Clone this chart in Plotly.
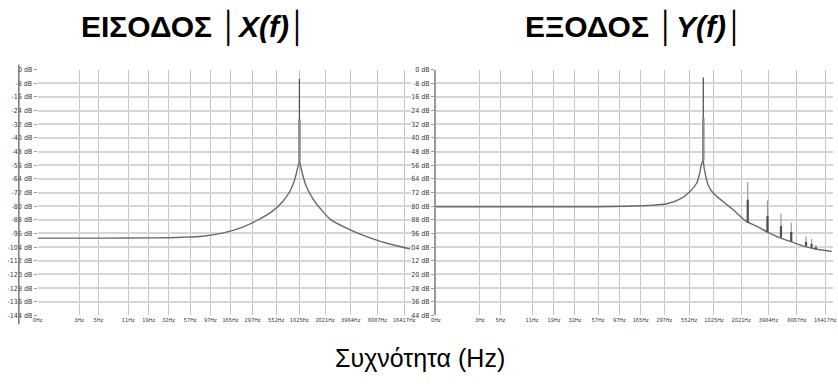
import numpy as np
import plotly.graph_objects as go

# ---- axis labels -------------------------------------------------------
# the first bin (DC) sits at the left edge of the log axis, at 1 Hz
freq_ticks_hz = [1, 3, 5, 11, 19, 32, 57, 97, 165, 297, 552, 1025, 2021, 3984, 8087, 16417]
freq_tick_text = ["0Hz", "3Hz", "5Hz", "11Hz", "19Hz", "32Hz", "57Hz", "97Hz", "165Hz",
                  "297Hz", "552Hz", "1025Hz", "2021Hz", "3984Hz", "8087Hz", "16417Hz"]

level_ticks_db = [0, -8, -16, -24, -32, -40, -48, -56, -64, -72, -80, -88, -96,
                  -104, -112, -120, -128, -136, -144]
in_level_text = ["0 dB", "-8 dB", "-16 dB", "-24 dB", "-32 dB", "-40 dB", "-48 dB", "-56 dB",
                 "-64 dB", "-72 dB", "-80 dB", "-88 dB", "-96 dB", "-104 dB", "-112 dB",
                 "-120 dB", "-128 dB", "-136 dB", "-144 dB"]
out_level_text = ["0 dB", "-8 dB", "16 dB", "24 dB", "32 dB", "40 dB", "48 dB", "56 dB",
                  "64 dB", "72 dB", "80 dB", "88 dB", "96 dB", "04 dB", "12 dB",
                  "20 dB", "28 dB", "36 dB", "44 dB"]

# ---- input spectrum |X(f)| ---------------------------------------------
# envelope below the fundamental, then above it
in_lo_freq = [1, 6, 21, 47, 79, 133, 225, 333, 493, 641, 790, 901, 975, 1026]
in_lo_db = [-98.7, -98.7, -98.6, -98.2, -97.6, -95.8, -92.4, -88.4, -83.2, -78.0, -71.7,
            -64.8, -58.0, -53.4]
in_hi_freq = [1026, 1110, 1233, 1480, 1824, 2371, 4003, 6760, 11400, 19240]
in_hi_db = [-53.4, -61.0, -68.5, -76.0, -82.0, -88.0, -94.0, -98.7, -102.3, -105.0]
in_line_hz = 1026
in_line_top_db = -5.5
in_line_body_db = [-53.4, -29.3]

# ---- output spectrum |Y(f)| --------------------------------------------
out_lo_freq = [1, 6, 21, 57, 194, 318, 438, 561, 666, 717, 754, 786]
out_lo_db = [-80.3, -80.3, -80.3, -80.3, -79.6, -78.6, -75.9, -71.5, -66.6, -60.8, -55.1,
             -53.4]
out_hi_freq = [786, 811, 889, 1005, 1285, 1644, 2282, 2918, 3892, 5177, 7204, 9999,
               13870, 19300]
out_hi_db = [-53.4, -59.1, -67.7, -72.3, -77.3, -82.0, -88.8, -91.6, -95.1, -98.3, -101.1,
             -103.7, -105.4, -106.5]
out_line_hz = 786
out_line_top_db = -4.6
out_line_body_db = [-53.4, -28.5]

harm_hz = [2379, 3892, 5445, 7036, 10180, 11680, 13010]
harm_top_db = [-65.8, -76.6, -84.3, -89.7, -97.7, -99.3, -102.7]
harm_body_db = [-76.3, -85.9, -91.6, -95.1, -100.8, -102.1, -104.0]
harm_base_db = [-89.7, -95.4, -98.3, -100.7, -103.4, -104.4, -105.4]

W, H = 838, 386
CURVE = "#6a6a6a"
DARK = "#4a4a4a"
GREY = "#8c8c8c"


def segments(xs, y0s, y1s):
    """Vertical segments separated by gaps."""
    sx, sy = [], []
    for x, a, b in zip(xs, y0s, y1s):
        sx += [x, x, None]
        sy += [a, b, None]
    return sx, sy


fig = go.Figure()


def envelope(freq, db, xa, ya):
    fig.add_trace(go.Scatter(x=freq, y=db, mode="lines",
                             line=dict(color=CURVE, width=1.4, shape="spline", smoothing=0.8),
                             xaxis=xa, yaxis=ya, hoverinfo="skip"))


def lines(sx, sy, color, width, xa, ya):
    fig.add_trace(go.Scatter(x=sx, y=sy, mode="lines", line=dict(color=color, width=width),
                             xaxis=xa, yaxis=ya, hoverinfo="skip"))


# input panel
envelope(in_lo_freq, in_lo_db, "x", "y")
envelope(in_hi_freq, in_hi_db, "x", "y")
lines(*segments([in_line_hz], [in_line_body_db[0]], [in_line_top_db]), DARK, 1.2, "x", "y")
lines(*segments([in_line_hz], [in_line_body_db[0]], [in_line_body_db[1]]), GREY, 2.6, "x", "y")

# output panel
envelope(out_lo_freq, out_lo_db, "x2", "y2")
envelope(out_hi_freq, out_hi_db, "x2", "y2")
lines(*segments([out_line_hz], [out_line_body_db[0]], [out_line_top_db]), DARK, 1.2, "x2", "y2")
lines(*segments([out_line_hz], [out_line_body_db[0]], [out_line_body_db[1]]), GREY, 2.6,
      "x2", "y2")
lines(*segments(harm_hz, harm_base_db, harm_top_db), "#9a9a9a", 1.2, "x2", "y2")
lines(*segments(harm_hz, harm_base_db, harm_body_db), "#505050", 2.2, "x2", "y2")

small = dict(family="Liberation Sans Narrow, Arial Narrow, DejaVu Sans Condensed", size=7,
             color="#333333")
xsmall = dict(family="Liberation Sans Narrow, Arial Narrow, DejaVu Sans Condensed", size=5.6,
              color="#333333")
y_dom = [1 - 318 / H, 1 - 67 / H]


def xaxis(dom, top, anchor):
    return dict(type="log", domain=dom, range=[0, top], anchor=anchor,
                tickvals=freq_ticks_hz, ticktext=freq_tick_text,
                tickfont=xsmall, tickangle=0, ticks="", showgrid=True, gridcolor="#c6c6c6",
                gridwidth=1, zeroline=False, showline=False, fixedrange=True)


def yaxis(text, anchor, line):
    return dict(domain=y_dom, range=[-144, 0], anchor=anchor, tickvals=level_ticks_db,
                ticktext=text, tickfont=small, ticks="outside", ticklen=3,
                tickcolor="#9a9a9a", showgrid=True, gridcolor="#d6d6d6", gridwidth=1.6,
                zeroline=False, showline=line, linecolor="#9a9a9a", linewidth=1.5,
                fixedrange=True)


fig.update_layout(
    width=W, height=H, margin=dict(l=0, r=0, t=0, b=0),
    paper_bgcolor="white", plot_bgcolor="white", showlegend=False,
    # 88 px per decade on the input panel, 93.5 px per decade on the output panel
    xaxis=xaxis([33 / W, 411 / W], 378 / 88.0, "y"),
    yaxis=yaxis(in_level_text, "x", False),
    xaxis2=xaxis([436 / W, 1.0], 402 / 93.5, "y2"),
    yaxis2=yaxis(out_level_text, "x2", True),
    font=dict(family="Liberation Sans, Arial, sans-serif", color="black"),
)

# frame line at the far left of the input panel
fig.add_shape(type="line", xref="paper", yref="paper", x0=14 / W, x1=14 / W,
              y0=1 - 327 / H, y1=1 - 62 / H, line=dict(color="#777777", width=1.5))

title_font = dict(family="Liberation Sans, Arial, sans-serif", size=30, color="black")
fig.add_annotation(text="<b>ΕΙΣΟΔΟΣ </b>│<b><i>X(f)</i></b>│", xref="paper", yref="paper",
                   x=192 / W, y=1 - 24 / H, showarrow=False, font=title_font,
                   xanchor="center", yanchor="middle")
fig.add_annotation(text="<b>ΕΞΟΔΟΣ </b>│<b><i>Y(f)</i></b>│", xref="paper", yref="paper",
                   x=638 / W, y=1 - 24 / H, showarrow=False, font=title_font,
                   xanchor="center", yanchor="middle")
fig.add_annotation(text="Συχνότητα (Hz)", xref="paper", yref="paper",
                   x=420 / W, y=1 - 362 / H, showarrow=False,
                   font=dict(family="Liberation Sans, Arial, sans-serif", size=25,
                             color="black"),
                   xanchor="center", yanchor="middle")

fig.write_html("out.html")
